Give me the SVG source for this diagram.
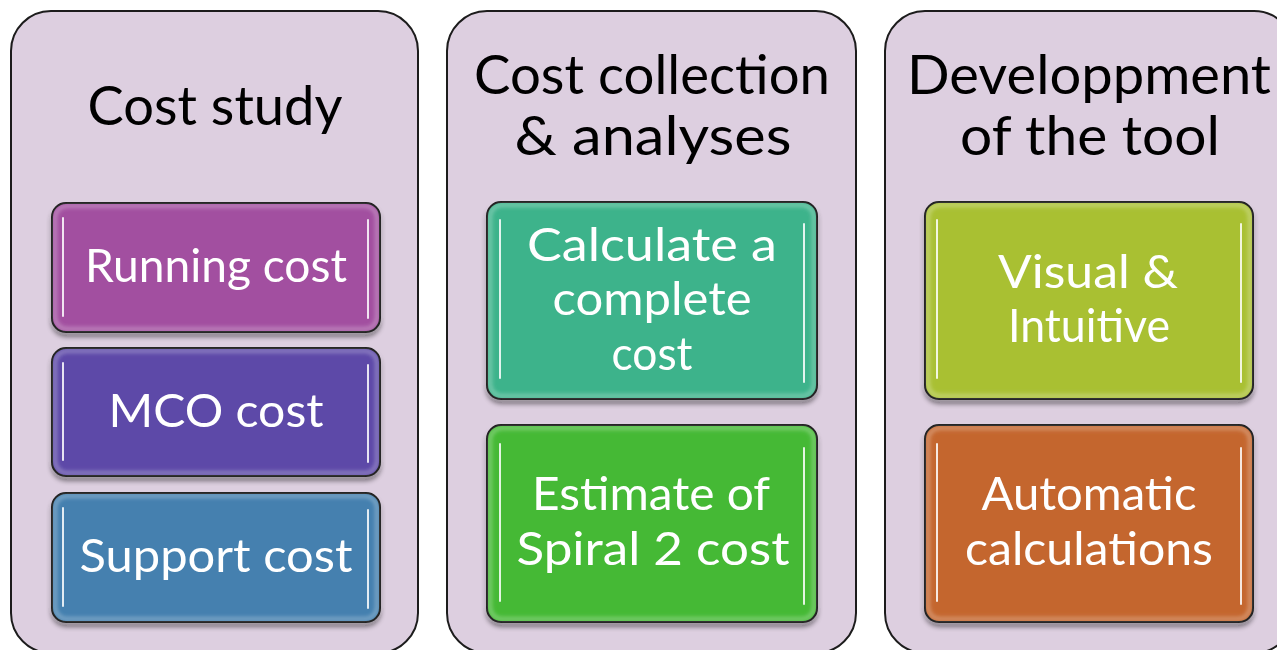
<svg xmlns="http://www.w3.org/2000/svg" width="1277" height="650" viewBox="0 0 1277 650">
  <defs>
    <filter id="drop" x="-10%" y="-10%" width="120%" height="130%">
      <feGaussianBlur in="SourceAlpha" stdDeviation="2.5"/>
      <feOffset dx="0" dy="4" result="o"/>
      <feComponentTransfer><feFuncA type="linear" slope="0.45"/></feComponentTransfer>
      <feMerge><feMergeNode/><feMergeNode in="SourceGraphic"/></feMerge>
    </filter>
    <filter id="soft" x="-100%" y="-10%" width="300%" height="120%">
      <feGaussianBlur stdDeviation="0.7"/>
    </filter>
    <filter id="rim" x="-5%" y="-5%" width="110%" height="110%">
      <feGaussianBlur stdDeviation="2"/>
    </filter>
    <style>
      .panel { fill: #DDCFE0; stroke: #1c1c1c; stroke-width: 2; }
      .title { font-family: "Lato", "Open Sans", sans-serif; font-size: 54px; fill: #000; text-anchor: middle; }
      .box { stroke: #141414; stroke-width: 2; }
      .label { font-family: "Lato", "Open Sans", sans-serif; font-size: 47px; fill: #fff; text-anchor: middle; }
      .glow { fill: none; stroke: #fff; stroke-opacity: 0.4; stroke-width: 3; filter: url(#rim); }
      .bar { stroke-width: 5; stroke-linecap: round; filter: url(#soft); }
      .core { stroke: #fff; stroke-width: 2; stroke-linecap: round; stroke-opacity: 0.85; }
    </style>
  </defs>

  <rect width="1277" height="650" fill="#ffffff"/>

  <!-- column 1: cost study -->
  <g id="panel-cost-study">
    <rect class="panel" x="11" y="11" width="407" height="642" rx="40"/>
    <text class="title" x="215" y="125" textLength="255" lengthAdjust="spacingAndGlyphs">Cost study</text>
  </g>
  <g id="node-running" filter="url(#drop)">
    <rect class="box" x="52" y="203" width="328" height="129" rx="14" fill="#A24FA0"/>
    <rect class="glow" x="55" y="206" width="322" height="123" rx="12"/>
    <line class="bar" x1="63" y1="216" x2="63" y2="318" stroke="#F4C2F2"/>
    <line class="core" x1="63" y1="218" x2="63" y2="316"/>
    <line class="bar" x1="368" y1="218" x2="368" y2="320" stroke="#F4C2F2"/>
    <line class="core" x1="368" y1="220" x2="368" y2="318"/>
    <text class="label" x="216" y="282" textLength="262" lengthAdjust="spacingAndGlyphs">Running cost</text>
  </g>
  <g id="node-mco" filter="url(#drop)">
    <rect class="box" x="52" y="348" width="328" height="128" rx="14" fill="#5D49A8"/>
    <rect class="glow" x="55" y="351" width="322" height="122" rx="12"/>
    <line class="bar" x1="63" y1="361" x2="63" y2="462" stroke="#C6BEFF"/>
    <line class="core" x1="63" y1="363" x2="63" y2="460"/>
    <line class="bar" x1="368" y1="363" x2="368" y2="464" stroke="#C6BEFF"/>
    <line class="core" x1="368" y1="365" x2="368" y2="462"/>
    <text class="label" x="216" y="427" textLength="215" lengthAdjust="spacingAndGlyphs">MCO cost</text>
  </g>
  <g id="node-support" filter="url(#drop)">
    <rect class="box" x="52" y="493" width="328" height="129" rx="14" fill="#4480AF"/>
    <rect class="glow" x="55" y="496" width="322" height="123" rx="12"/>
    <line class="bar" x1="63" y1="506" x2="63" y2="608" stroke="#B2E2FF"/>
    <line class="core" x1="63" y1="508" x2="63" y2="606"/>
    <line class="bar" x1="368" y1="508" x2="368" y2="610" stroke="#B2E2FF"/>
    <line class="core" x1="368" y1="510" x2="368" y2="608"/>
    <text class="label" x="216" y="572" textLength="273" lengthAdjust="spacingAndGlyphs">Support cost</text>
  </g>

  <!-- column 2: cost collection -->
  <g id="panel-cost-collection">
    <rect class="panel" x="447" y="11" width="409" height="642" rx="40"/>
    <text class="title" x="652" y="94" textLength="356" lengthAdjust="spacingAndGlyphs">Cost collection</text>
    <text class="title" x="653" y="155" textLength="277" lengthAdjust="spacingAndGlyphs">&amp; analyses</text>
  </g>
  <g id="node-calculate" filter="url(#drop)">
    <rect class="box" x="487" y="202" width="330" height="197" rx="14" fill="#3DB38B"/>
    <rect class="glow" x="490" y="205" width="324" height="191" rx="12"/>
    <line class="bar" x1="500" y1="218" x2="500" y2="380" stroke="#A4FFE4"/>
    <line class="core" x1="500" y1="220" x2="500" y2="378"/>
    <line class="bar" x1="804" y1="222" x2="804" y2="384" stroke="#A4FFE4"/>
    <line class="core" x1="804" y1="224" x2="804" y2="382"/>
    <text class="label" x="652" y="261" textLength="250" lengthAdjust="spacingAndGlyphs">Calculate a</text>
    <text class="label" x="652" y="315" textLength="199" lengthAdjust="spacingAndGlyphs">complete</text>
    <text class="label" x="652" y="370" textLength="81" lengthAdjust="spacingAndGlyphs">cost</text>
  </g>
  <g id="node-estimate" filter="url(#drop)">
    <rect class="box" x="487" y="425" width="330" height="197" rx="14" fill="#45B935"/>
    <rect class="glow" x="490" y="428" width="324" height="191" rx="12"/>
    <line class="bar" x1="500" y1="442" x2="500" y2="603" stroke="#B0F49A"/>
    <line class="core" x1="500" y1="444" x2="500" y2="601"/>
    <line class="bar" x1="804" y1="446" x2="804" y2="606" stroke="#B0F49A"/>
    <line class="core" x1="804" y1="448" x2="804" y2="604"/>
    <text class="label" x="651" y="510" textLength="238" lengthAdjust="spacingAndGlyphs">Estimate of</text>
    <text class="label" x="653" y="565" textLength="273" lengthAdjust="spacingAndGlyphs">Spiral 2 cost</text>
  </g>

  <!-- column 3: tool development -->
  <g id="panel-tool">
    <rect class="panel" x="885" y="11" width="409" height="642" rx="40"/>
    <text class="title" x="1089" y="94" textLength="364" lengthAdjust="spacingAndGlyphs">Developpment</text>
    <text class="title" x="1090" y="155" textLength="260" lengthAdjust="spacingAndGlyphs">of the tool</text>
  </g>
  <g id="node-visual" filter="url(#drop)">
    <rect class="box" x="925" y="202" width="328" height="197" rx="14" fill="#A9C033"/>
    <rect class="glow" x="928" y="205" width="322" height="191" rx="12"/>
    <line class="bar" x1="937" y1="218" x2="937" y2="380" stroke="#F8FF9C"/>
    <line class="core" x1="937" y1="220" x2="937" y2="378"/>
    <line class="bar" x1="1241" y1="222" x2="1241" y2="384" stroke="#F8FF9C"/>
    <line class="core" x1="1241" y1="224" x2="1241" y2="382"/>
    <text class="label" x="1088" y="288" textLength="180" lengthAdjust="spacingAndGlyphs">Visual &amp;</text>
    <text class="label" x="1089" y="342" textLength="162" lengthAdjust="spacingAndGlyphs">Intuitive</text>
  </g>
  <g id="node-automatic" filter="url(#drop)">
    <rect class="box" x="925" y="425" width="328" height="197" rx="14" fill="#C4662E"/>
    <rect class="glow" x="928" y="428" width="322" height="191" rx="12"/>
    <line class="bar" x1="937" y1="442" x2="937" y2="603" stroke="#FFCC98"/>
    <line class="core" x1="937" y1="444" x2="937" y2="601"/>
    <line class="bar" x1="1241" y1="446" x2="1241" y2="606" stroke="#FFCC98"/>
    <line class="core" x1="1241" y1="448" x2="1241" y2="604"/>
    <text class="label" x="1089" y="510" textLength="215" lengthAdjust="spacingAndGlyphs">Automatic</text>
    <text class="label" x="1089" y="565" textLength="248" lengthAdjust="spacingAndGlyphs">calculations</text>
  </g>

  <!-- no connectors are drawn between the columns -->
  <g id="connectors"/>
</svg>
